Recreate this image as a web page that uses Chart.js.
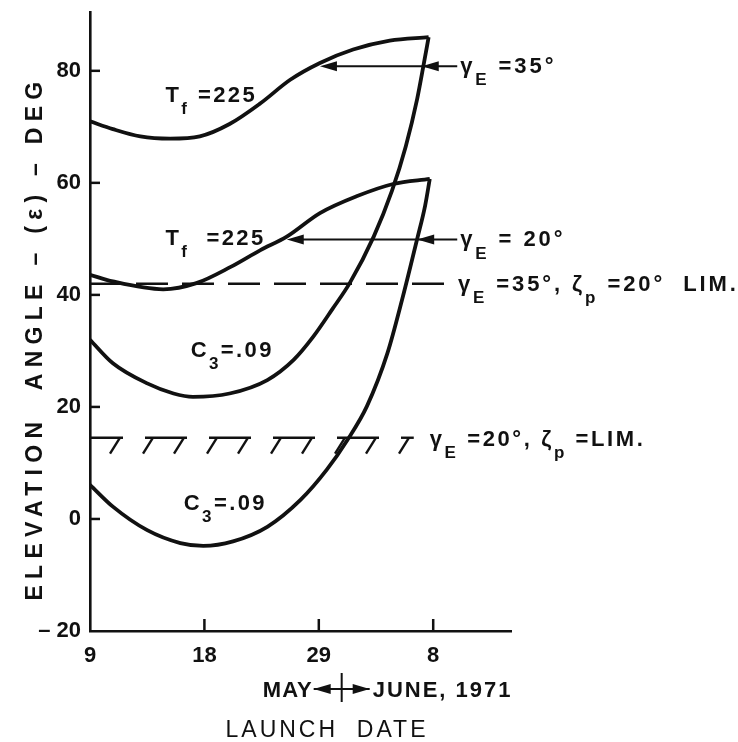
<!DOCTYPE html>
<html>
<head>
<meta charset="utf-8">
<script src="https://cdn.jsdelivr.net/npm/chart.js@4.4.1/dist/chart.umd.min.js"></script>
<style>
  html, body { margin: 0; padding: 0; background: #fff; }
  #wrap { width: 738px; height: 742px; }
</style>
</head>
<body>
<div id="wrap"><canvas id="grafik" width="738" height="742"></canvas></div>
<script>
// ---- sumbu ----
// tanggal peluncuran: posisi 0 = 9 Mei, tiap langkah satu tanggal berlabel
const TICK_POS = [0, 1, 2, 3];
const TICK_LABELS = ["9", "18", "29", "8"];
const Y_TICKS = [-20, 0, 20, 40, 60, 80];
const BATAS_BULAN = 2.2; // pergantian Mei -> Juni

// ---- kurva gamma_E = 35 deg ----
const TF35_X = [0, 0.20, 0.44, 0.70, 0.96, 1.22, 1.49, 1.75, 2.01, 2.30, 2.62, 2.96];
const TF35_Y = [71.0, 69.6, 68.3, 67.9, 68.3, 70.5, 74.2, 78.4, 81.4, 83.8, 85.4, 86.0];
const C3_35_X = [0, 0.20, 0.50, 0.73, 0.90, 1.22, 1.55, 1.78, 1.95, 2.12, 2.27, 2.48, 2.64, 2.76, 2.86, 2.92, 2.96];
const C3_35_Y = [32.0, 27.8, 24.2, 22.4, 21.8, 22.4, 24.8, 28.4, 32.5, 37.5, 42.1, 50.4, 58.6, 66.5, 75.0, 81.5, 86.0];

// ---- kurva gamma_E = 20 deg ----
const TF20_X = [0, 0.20, 0.64, 0.93, 1.23, 1.49, 1.72, 2.01, 2.33, 2.65, 2.97];
const TF20_Y = [43.6, 42.4, 41.0, 42.1, 45.0, 48.0, 50.4, 54.6, 57.6, 59.8, 60.7];
const C3_20_X = [0, 0.20, 0.50, 0.79, 0.99, 1.25, 1.55, 1.84, 2.07, 2.25, 2.42, 2.60, 2.73, 2.86, 2.93, 2.97];
const C3_20_Y = [6.1, 2.2, -2.0, -4.3, -4.8, -4.0, -1.4, 3.4, 8.8, 14.1, 20.1, 29.6, 39.3, 50.0, 56.0, 60.7];

// ---- garis batas zeta_p ----
const LIM35 = 42;      // gamma_E = 35, zeta_p = 20 (putus-putus)
const LIM35_END = 3.19;
const LIM20 = 14.5;    // gamma_E = 20 (berarsir)
const LIM20_END = 2.83;

const FONT = '"Liberation Sans", Arial, sans-serif';
const HITAM = "#111";

// label tiap kurva: [teks, subskrip?]
const LABEL_KURVA = [
  { x: 0.66, y: 74.5, runs: [["T"], ["f", 1], [" =225"]] },
  { x: 0.66, y: 48.9, runs: [["T"], ["f", 1], ["  =225"]] },
  { x: 0.88, y: 29.0, runs: [["C"], ["3", 1], ["=.09"]] },
  { x: 0.82, y: 1.6, runs: [["C"], ["3", 1], ["=.09"]] },
];

// panah penunjuk gamma_E
const PANAH = [
  { y: 80.8, dari: 3.21, ujung: [2.01, 2.90], runs: [["γ"], ["E", 1], [" =35°"]] },
  { y: 49.9, dari: 3.21, ujung: [1.72, 2.86], runs: [["γ"], ["E", 1], [" = 20°"]] },
];

const LABEL_LIM35 = [["γ"], ["E", 1], [" =35°, "], ["ζ"], ["p", 1], [" =20°  LIM."]];
const LABEL_LIM20 = [["γ"], ["E", 1], [" =20°, "], ["ζ"], ["p", 1], [" =LIM."]];

function titik(xs, ys) {
  return xs.map((x, i) => ({ x: x, y: ys[i] }));
}

function kurva(xs, ys) {
  return {
    data: titik(xs, ys),
    showLine: true,
    borderColor: HITAM,
    borderWidth: 3.8,
    pointRadius: 0,
    cubicInterpolationMode: "monotone",
  };
}

// teks dengan subskrip, digambar dari kiri
function tulisRich(ctx, x, y, runs, size, spasi) {
  let cx = x;
  ctx.textAlign = "left";
  ctx.textBaseline = "alphabetic";
  ctx.letterSpacing = (spasi || 0) + "px";
  runs.forEach(([t, sub]) => {
    const fs = sub ? Math.round(size * 0.75) : size;
    ctx.font = `bold ${fs}px ${FONT}`;
    ctx.fillText(t, cx, sub ? y + size * 0.55 : y);
    cx += ctx.measureText(t).width;
  });
  ctx.letterSpacing = "0px";
  return cx;
}

function kepalaPanah(ctx, x, y, arah) {
  // arah: -1 ke kiri, 1 ke kanan
  ctx.beginPath();
  ctx.moveTo(x, y);
  ctx.lineTo(x - arah * 17, y - 5);
  ctx.lineTo(x - arah * 17, y + 5);
  ctx.closePath();
  ctx.fill();
}

const anotasi = {
  id: "anotasi",
  afterDatasetsDraw(chart) {
    const { ctx, scales: { x: sx, y: sy }, chartArea } = chart;
    ctx.save();
    ctx.strokeStyle = HITAM;
    ctx.fillStyle = HITAM;
    ctx.lineCap = "butt";

    // tick ke dalam pada sumbu y
    ctx.lineWidth = 2.5;
    Y_TICKS.filter(v => v > -20).forEach(v => {
      const py = sy.getPixelForValue(v);
      ctx.beginPath();
      ctx.moveTo(chartArea.left, py);
      ctx.lineTo(chartArea.left + 10, py);
      ctx.stroke();
    });
    // tick ke dalam pada sumbu x
    TICK_POS.filter(v => v > 0).forEach(v => {
      const px = sx.getPixelForValue(v);
      ctx.beginPath();
      ctx.moveTo(px, chartArea.bottom);
      ctx.lineTo(px, chartArea.bottom - 12);
      ctx.stroke();
    });

    // garis batas berarsir
    const yh = sy.getPixelForValue(LIM20);
    const x0 = sx.getPixelForValue(0);
    const x1 = sx.getPixelForValue(LIM20_END);
    ctx.lineWidth = 2.4;
    for (let a = x0 - 9; a < x1; a += 64) {
      const s = Math.max(a, x0), e = Math.min(a + 42, x1);
      ctx.beginPath();
      ctx.moveTo(s, yh);
      ctx.lineTo(e, yh);
      ctx.stroke();
      [a + 8, a + 39].forEach(h => {
        if (h < x0 + 4 || h > x1) return;
        ctx.beginPath();
        ctx.moveTo(h, yh);
        ctx.lineTo(h - 10, yh + 16);
        ctx.stroke();
      });
    }
    tulisRich(ctx, x1 + 16, yh + 8, LABEL_LIM20, 22, 2.6);

    // label garis putus-putus
    const yd = sy.getPixelForValue(LIM35);
    tulisRich(ctx, sx.getPixelForValue(LIM35_END) + 3, yd + 7, LABEL_LIM35, 22, 2.9);

    // panah gamma_E
    PANAH.forEach(p => {
      const py = sy.getPixelForValue(p.y);
      const xa = sx.getPixelForValue(p.dari);
      const xt = sx.getPixelForValue(p.ujung[0]);
      ctx.lineWidth = 2;
      ctx.beginPath();
      ctx.moveTo(xa, py);
      ctx.lineTo(xt + 6, py);
      ctx.stroke();
      p.ujung.forEach(u => kepalaPanah(ctx, sx.getPixelForValue(u), py, -1));
      tulisRich(ctx, xa + 3, py + 7, p.runs, 22, 2.9);
    });

    // label kurva
    LABEL_KURVA.forEach(l => {
      tulisRich(ctx, sx.getPixelForValue(l.x), sy.getPixelForValue(l.y), l.runs, 22, 2.4);
    });

    // MAY <-|-> JUNE, 1971
    const xb = sx.getPixelForValue(BATAS_BULAN);
    const yb = 697;
    ctx.font = `bold 22px ${FONT}`;
    ctx.letterSpacing = "1px";
    ctx.textAlign = "right";
    ctx.fillText("MAY", xb - 29, yb);
    ctx.letterSpacing = "2px";
    ctx.textAlign = "left";
    ctx.fillText("JUNE, 1971", xb + 31, yb);
    ctx.letterSpacing = "0px";
    ctx.lineWidth = 2;
    ctx.beginPath();
    ctx.moveTo(xb - 28, yb - 8);
    ctx.lineTo(xb + 28, yb - 8);
    ctx.moveTo(xb, yb - 24);
    ctx.lineTo(xb, yb + 5);
    ctx.stroke();
    kepalaPanah(ctx, xb - 28, yb - 8, -1);
    kepalaPanah(ctx, xb + 28, yb - 8, 1);

    // judul sumbu x
    ctx.font = `23px ${FONT}`;
    ctx.letterSpacing = "3px";
    ctx.textAlign = "center";
    ctx.fillText("LAUNCH  DATE", 327, 737);

    // judul sumbu y
    ctx.translate(42, 338);
    ctx.rotate(-Math.PI / 2);
    ctx.font = `bold 23px ${FONT}`;
    ctx.letterSpacing = "6.3px";
    ctx.fillText("ELEVATION  ANGLE – (ε) – DEG", 0, 0);
    ctx.restore();
  },
};

new Chart(document.getElementById("grafik"), {
  type: "scatter",
  data: {
    datasets: [
      kurva(TF35_X, TF35_Y),
      kurva(C3_35_X, C3_35_Y),
      kurva(TF20_X, TF20_Y),
      kurva(C3_20_X, C3_20_Y),
      {
        // batas gamma_E = 35, zeta_p = 20
        data: [{ x: 0, y: LIM35 }, { x: LIM35_END, y: LIM35 }],
        showLine: true,
        borderColor: HITAM,
        borderWidth: 2.4,
        borderDash: [32, 14],
        pointRadius: 0,
      },
    ],
  },
  options: {
    responsive: false,
    animation: false,
    devicePixelRatio: 1,
    layout: { padding: { top: 12, right: 227, left: 0, bottom: 0 } },
    plugins: { legend: { display: false }, tooltip: { enabled: false } },
    scales: {
      x: {
        type: "linear",
        min: 0,
        max: 3.68,
        afterBuildTicks: s => { s.ticks = TICK_POS.map(v => ({ value: v })); },
        afterFit: s => { s.height = 111; s.paddingLeft = 0; s.paddingRight = 0; },
        grid: { drawOnChartArea: false, drawTicks: false },
        border: { color: HITAM, width: 2.6 },
        ticks: {
          callback: v => TICK_LABELS[TICK_POS.indexOf(v)],
          color: HITAM,
          font: { family: FONT, size: 22, weight: "bold" },
          padding: 12,
          maxRotation: 0,
          autoSkip: false,
        },
      },
      y: {
        min: -20,
        max: 90.5,
        afterBuildTicks: s => { s.ticks = Y_TICKS.map(v => ({ value: v })); },
        afterFit: s => { s.width = 90; s.paddingTop = 0; s.paddingBottom = 0; },
        grid: { drawOnChartArea: false, drawTicks: false },
        border: { color: HITAM, width: 2.6 },
        ticks: {
          callback: v => (v < 0 ? "– " + Math.abs(v) : String(v)),
          color: HITAM,
          font: { family: FONT, size: 22, weight: "bold" },
          padding: 9,
        },
      },
    },
  },
  plugins: [anotasi],
});
</script>
</body>
</html>
